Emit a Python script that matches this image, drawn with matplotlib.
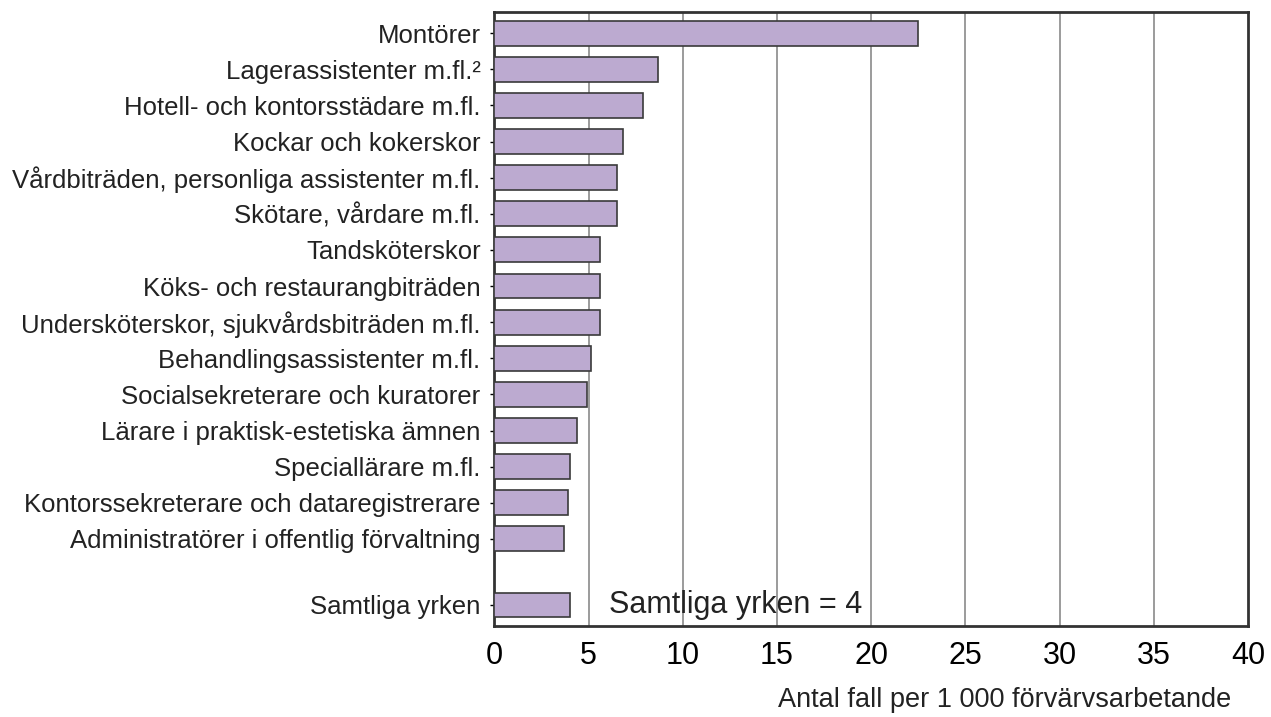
import matplotlib
matplotlib.use("Agg")
import matplotlib.pyplot as plt
import numpy as np

plt.rcParams['font.family'] = ['Liberation Sans', 'DejaVu Sans']

categories = [
    "Montörer",
    "Lagerassistenter m.fl.²",
    "Hotell- och kontorsstädare m.fl.",
    "Kockar och kokerskor",
    "Vårdbiträden, personliga assistenter m.fl.",
    "Skötare, vårdare m.fl.",
    "Tandsköterskor",
    "Köks- och restaurangbiträden",
    "Undersköterskor, sjukvårdsbiträden m.fl.",
    "Behandlingsassistenter m.fl.",
    "Socialsekreterare och kuratorer",
    "Lärare i praktisk-estetiska ämnen",
    "Speciallärare m.fl.",
    "Kontorssekreterare och dataregistrerare",
    "Administratörer i offentlig förvaltning",
    "Samtliga yrken",
]
values = [22.5, 8.7, 7.9, 6.8, 6.5, 6.5, 5.6, 5.6, 5.6, 5.1, 4.9, 4.4, 4.0, 3.9, 3.7, 4.0]
xticks = [0, 5, 10, 15, 20, 25, 30, 35, 40]
total_label = "Samtliga yrken = 4"
xlabel = "Antal fall per 1 000 förvärvsarbetande"

# last bar sits apart from the rest
ypos = list(range(len(categories) - 1)) + [len(categories) - 1 + 0.83]

fig = plt.figure(figsize=(12.71, 7.17), dpi=100)
ax = fig.add_axes([0.389, 0.127, 0.593, 0.856])

ax.barh(ypos, values, height=0.69, color="#bcaad0", edgecolor="#3a3a3a",
        linewidth=1.2, zorder=3)

for x in xticks[1:-1]:
    ax.axvline(x, color="#8a8a8a", linewidth=1.2, zorder=1)

ax.set_xlim(0, 40)
ax.set_ylim(ypos[-1] + 0.58, -0.58)
ax.set_xticks(xticks)
ax.set_xticklabels([str(t) for t in xticks], fontsize=22)
ax.set_yticks(ypos)
ax.set_yticklabels(categories, fontsize=18.5, color="#222222")
ax.tick_params(axis='x', length=0, pad=11)
ax.tick_params(axis='y', length=3, width=1, pad=7)

for s in ax.spines.values():
    s.set_linewidth(2)
    s.set_color("#333333")

ax.text(6.1, ypos[-1], total_label, fontsize=22, va='center', ha='left',
        color="#222222", zorder=4)

fig.text(0.969, 0.014, xlabel, fontsize=19.5, ha='right', va='baseline',
         color="#222222")

fig.savefig("out.png", dpi=100)
